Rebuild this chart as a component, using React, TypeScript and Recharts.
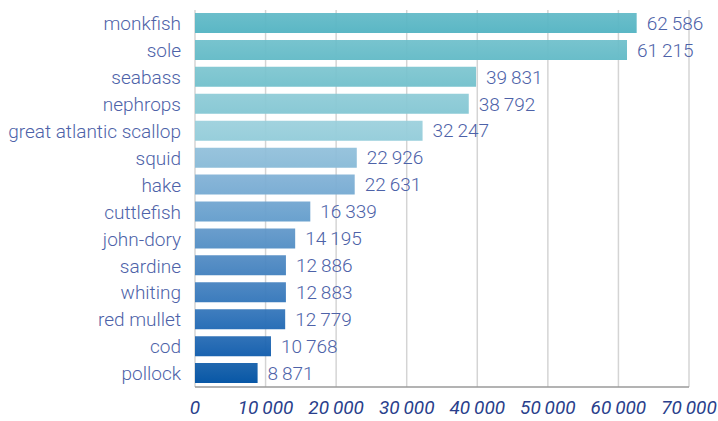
import { BarChart, Bar, XAxis, YAxis, CartesianGrid, Cell, LabelList } from "recharts";

const species = [
    "monkfish",
    "sole",
    "seabass",
    "nephrops",
    "great atlantic scallop",
    "squid",
    "hake",
    "cuttlefish",
    "john-dory",
    "sardine",
    "whiting",
    "red mullet",
    "cod",
    "pollock",
];
const tonnes = [62586, 61215, 39831, 38792, 32247, 22926, 22631, 16339, 14195, 12886, 12883, 12779, 10768, 8871];
const xTicks = [0, 10000, 20000, 30000, 40000, 50000, 60000, 70000];

// teal at the top fading to light, then deeper blues down to pollock
const colors = [
    "#5bb7c5", "#69bdc9", "#78c3ce", "#89c9d5", "#97cedb", "#8dbdd9", "#7caed4",
    "#6aa1ce", "#5a93c7", "#4a86c1", "#3c7cbd", "#2a6fb7", "#1a63b0", "#0857a6",
];

const fmt = (v: number) => String(v).replace(/\B(?=(\d{3})+(?!\d))/g, "\u2009");

const data = species.map((name, i) => ({ name, value: tonnes[i] }));

const FONT = "Roboto, sans-serif";

export default function App() {
    return (
        <div style={{ position: "absolute", left: 0, top: 0, fontFamily: FONT }}>
            <BarChart
                width={718}
                height={421}
                data={data}
                layout="vertical"
                margin={{ top: 10, right: 29, left: 0, bottom: 0 }}
                barSize={20}
            >
                <defs>
                    {colors.map((c, i) => (
                        <linearGradient key={i} id={`bar${i}`} x1="0" y1="0" x2="0" y2="1">
                            <stop offset="0%" stopColor={c} stopOpacity={0.9} />
                            <stop offset="100%" stopColor={c} stopOpacity={1} />
                        </linearGradient>
                    ))}
                </defs>
                <XAxis
                    type="number"
                    domain={[0, 70000]}
                    ticks={xTicks}
                    tickFormatter={fmt}
                    height={34}
                    axisLine={{ stroke: "#9a9a9a", strokeWidth: 1.5 }}
                    tickLine={false}
                    tickMargin={8}
                    tick={{ fontSize: 19, fill: "#2a3f8c", fontStyle: "italic", fontFamily: FONT, fontWeight: 400 }}
                />
                <YAxis
                    type="category"
                    dataKey="name"
                    width={195}
                    axisLine={false}
                    tickLine={false}
                    tickSize={0}
                    tickMargin={14}
                    interval={0}
                    tick={{ fontSize: 19, fill: "#4d62a8", fontFamily: FONT, fontWeight: 300 }}
                />
                <Bar dataKey="value" isAnimationActive={false}>
                    {data.map((_, i) => (
                        <Cell key={i} fill={`url(#bar${i})`} />
                    ))}
                    <LabelList
                        dataKey="value"
                        position="right"
                        offset={10}
                        formatter={(v: any) => fmt(Number(v))}
                        style={{ fontSize: 19, fill: "#4d62a8", fontFamily: FONT, fontWeight: 300 }}
                    />
                </Bar>
                <CartesianGrid horizontal={false} stroke="#000" strokeOpacity={0.17} strokeWidth={1.5} />
            </BarChart>
        </div>
    );
}
